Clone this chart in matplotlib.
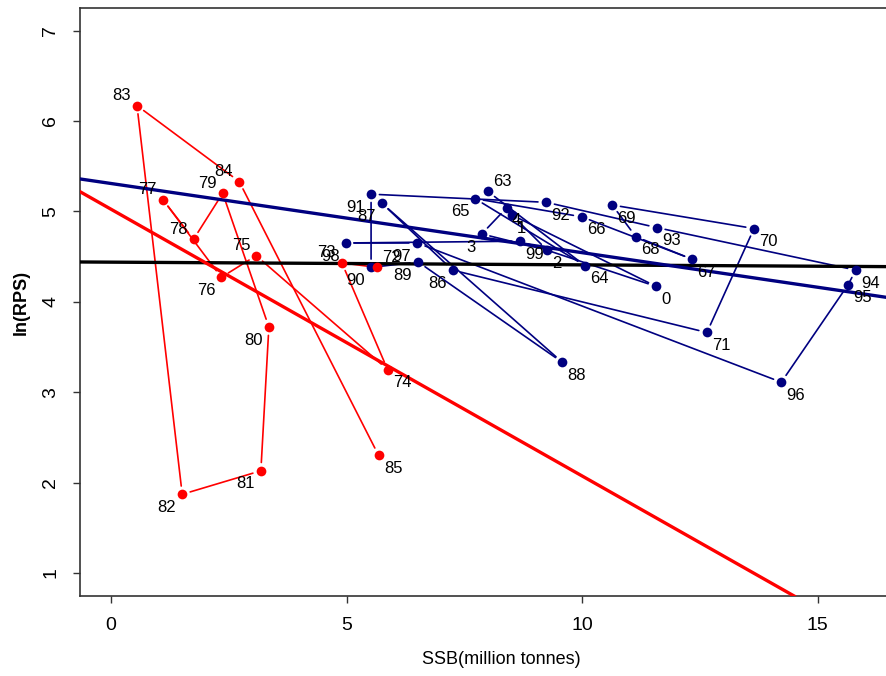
import numpy as np
import matplotlib.pyplot as plt

plt.rcParams['font.family'] = ['Liberation Sans', 'DejaVu Sans']

# blue series: 1963-1971 then 1986-2004, joined in year order
blue_years = ['63', '64', '65', '66', '67', '68', '69', '70', '71',
              '86', '87', '88', '89', '90', '91', '92', '93', '94', '95',
              '96', '97', '98', '99', '0', '1', '2', '3', '4']
blue_ssb = [8.00, 10.06, 7.73, 9.99, 12.34, 11.14, 10.64, 13.65, 12.65,
            7.25, 5.75, 9.58, 6.52, 5.52, 5.52, 9.24, 11.59, 15.81, 15.65,
            14.23, 6.50, 4.98, 8.68, 11.57, 8.51, 9.26, 7.87, 8.40]
blue_lnrps = [5.22, 4.40, 5.14, 4.94, 4.47, 4.72, 5.07, 4.81, 3.66,
              4.35, 5.09, 3.33, 4.44, 4.38, 5.19, 5.10, 4.82, 4.35, 4.19,
              3.11, 4.65, 4.65, 4.67, 4.17, 4.96, 4.57, 4.75, 5.04]

# red series: 1972-1985
red_years = ['72', '73', '74', '75', '76', '77', '78', '79', '80',
             '81', '82', '83', '84', '85']
red_ssb = [5.64, 4.90, 5.87, 3.08, 2.34, 1.10, 1.75, 2.37, 3.35,
           3.18, 1.51, 0.55, 2.72, 5.68]
red_lnrps = [4.38, 4.43, 3.25, 4.51, 4.27, 5.13, 4.69, 5.20, 3.72,
             2.13, 1.87, 6.17, 5.33, 2.30]

# fitted lines (intercept, slope)
fit_intercept = [4.438, 5.308, 5.023]
fit_slope = [-0.003, -0.0765, -0.295]
fit_color = ['black', '#000080', '#ff0000']

# where each year label sits relative to its point
label_side = {
    '72': 'ur', '73': 'ul', '74': 'lr', '75': 'ul', '76': 'll', '77': 'ul',
    '78': 'ul', '79': 'ul', '80': 'll', '81': 'll', '82': 'll', '83': 'ul',
    '84': 'ul', '85': 'lr',
    '63': 'ur', '64': 'lr', '65': 'll', '66': 'lr', '67': 'lr', '68': 'lr',
    '69': 'lr', '70': 'lr', '71': 'lr', '86': 'll', '87': 'll', '88': 'lr',
    '89': 'll', '90': 'll', '91': 'll', '92': 'lr', '93': 'lr', '94': 'lr',
    '95': 'lr', '96': 'lr', '97': 'll', '98': 'll', '99': 'lr', '0': 'lr',
    '1': 'lr', '2': 'lr', '3': 'll', '4': 'lr'}
side_offset = {'ul': (-4.3, 7.2, 'right'), 'll': (-4.3, -9.4, 'right'),
               'lr': (3.8, -9.4, 'left'), 'ur': (4.0, 7.2, 'left')}

fig = plt.figure(figsize=(8.86, 6.76), dpi=100)
ax = fig.add_axes([80/886, 1-596/676, 822/886, 588/676])


def draw_series(xs, ys, years, color):
    for i in range(len(xs) - 1):
        ax.annotate('', xy=(xs[i+1], ys[i+1]), xytext=(xs[i], ys[i]),
                    arrowprops=dict(arrowstyle='-', color=color, lw=1.2,
                                    shrinkA=6, shrinkB=6), zorder=2)
    ax.plot(xs, ys, 'o', color=color, ms=7, mec='none', zorder=4)
    for x, y, yr in zip(xs, ys, years):
        dx, dy, ha = side_offset[label_side[yr]]
        ax.annotate(yr, (x, y), xytext=(dx, dy), textcoords='offset points',
                    ha=ha, va='center', fontsize=12, zorder=5)


draw_series(blue_ssb, blue_lnrps, blue_years, '#000080')
draw_series(red_ssb, red_lnrps, red_years, '#ff0000')

for b, m, c in zip(fit_intercept, fit_slope, fit_color):
    ax.axline((0, b), slope=m, color=c, lw=2.4, zorder=3)

ax.set_xlim(-0.66, -0.66 + 822/47.1)
ax.set_ylim(0.745, 0.745 + 588/90.4)
ax.set_xticks([0, 5, 10, 15])
ax.set_yticks([1, 2, 3, 4, 5, 6, 7])
for lab in ax.get_yticklabels():
    lab.set_rotation(90)
    lab.set_va('center')
ax.tick_params(axis='x', direction='out', length=5, width=1, colors='#333333',
               labelcolor='black', labelsize=14, pad=10)
ax.tick_params(axis='y', direction='out', length=5, width=1, colors='#333333',
               labelcolor='black', labelsize=14, pad=10)
for s in ax.spines.values():
    s.set_color('#333333')
    s.set_linewidth(1.2)

ax.set_xlabel('SSB(million tonnes)', fontsize=13)
ax.set_ylabel('ln(RPS)', fontsize=13, fontweight='bold')
ax.xaxis.set_label_coords(0.512, -0.093)
ax.yaxis.set_label_coords(-0.061, 0.5)

fig.savefig('out.png', dpi=100)
